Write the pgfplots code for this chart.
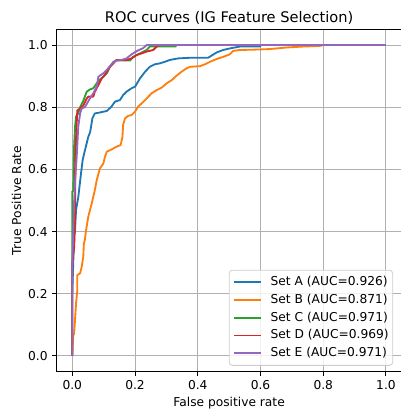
\documentclass[border=0pt]{standalone}
\usepackage{fontspec}
\setmainfont{DejaVu Sans}
\usepackage{pgfplots}
\pgfplotsset{compat=1.18}
\definecolor{tabblue}{HTML}{1F77B4}
\definecolor{taborange}{HTML}{FF7F0E}
\definecolor{tabgreen}{HTML}{2CA02C}
\definecolor{tabred}{HTML}{D62728}
\definecolor{tabpurple}{HTML}{9467BD}
\newcommand{\lblfont}{\fontsize{9.18}{11}\selectfont}
\begin{document}
\begin{tikzpicture}
\begin{axis}[
  scale only axis, width=258.75pt, height=256.5pt,
  xmin=-0.05, xmax=1.05, ymin=-0.05, ymax=1.05,
  xtick={0,0.2,0.4,0.6,0.8,1}, ytick={0,0.2,0.4,0.6,0.8,1},
  xticklabels={0.0,0.2,0.4,0.6,0.8,1.0}, yticklabels={0.0,0.2,0.4,0.6,0.8,1.0},
  grid=major, major grid style={color=black!31, line width=0.73pt},
  axis line style={line width=0.73pt},
  tick align=outside, tick pos=left, major tick length=3.2pt,
  every tick/.style={black, line width=0.73pt},
  ticklabel style={font=\lblfont},
  /pgf/number format/assume math mode=true,
  xlabel={False positive rate}, ylabel={True Positive Rate},
  title={ROC curves (IG Feature Selection)},
  label style={font=\lblfont},
  x label style={at={(axis description cs:0.5,0)}, anchor=base, yshift=-26.5pt},
  y label style={at={(axis description cs:0,0.5)}, anchor=base, yshift=26.7pt},
  title style={font=\fontsize{10.95}{13}\selectfont, at={(axis description cs:0.5,1)}, anchor=base, yshift=-0.6pt},
  every axis plot/.append style={line width=1.38pt, line join=round},
  legend cell align=left,
  legend image code/.code={\draw[#1] (0pt,0pt) -- (20pt,0pt);},
  legend style={at={(rel axis cs:1,0)}, anchor=south east, xshift=-6.4pt, yshift=4.3pt,
    draw=black!20, line width=0.6pt, rounded corners=2.5pt, fill=white, fill opacity=0.8, text opacity=1,
    font=\lblfont, inner xsep=3pt, inner ysep=4.6pt, row sep=4.3pt, column sep=6.75pt,
    nodes={inner sep=0pt, text height=7pt, text depth=2pt}},
]
\addplot[color=tabblue] coordinates {
(0,0) (0,0.20) (0.003,0.30) (0.006,0.38) (0.009,0.41) (0.012,0.47) (0.019,0.51)
(0.027,0.58) (0.033,0.63) (0.040,0.66) (0.051,0.705) (0.057,0.72) (0.064,0.764)
(0.072,0.78) (0.088,0.783) (0.110,0.788) (0.125,0.802) (0.136,0.818) (0.152,0.823)
(0.162,0.839) (0.173,0.850) (0.189,0.861) (0.200,0.866) (0.216,0.893) (0.232,0.914)
(0.247,0.930) (0.263,0.938) (0.279,0.941) (0.295,0.946) (0.311,0.952) (0.338,0.957)
(0.375,0.959) (0.433,0.959) (0.444,0.966) (0.460,0.976) (0.481,0.984) (0.502,0.989)
(0.534,0.995) (0.60,0.995) (0.60,1.0) (1,1)};
\addlegendentry{Set A (AUC=0.926)}
\addplot[color=taborange] coordinates {
(0,0) (0.003,0.065) (0.006,0.073) (0.009,0.121) (0.012,0.169) (0.016,0.212) (0.016,0.260)
(0.025,0.266) (0.030,0.287) (0.035,0.319) (0.037,0.362) (0.040,0.373) (0.044,0.405)
(0.051,0.448) (0.062,0.491) (0.072,0.534) (0.078,0.566) (0.088,0.603) (0.099,0.619)
(0.104,0.640) (0.110,0.657) (0.125,0.664) (0.141,0.673) (0.154,0.678) (0.160,0.705)
(0.162,0.743) (0.168,0.764) (0.178,0.772) (0.189,0.775) (0.200,0.786) (0.210,0.802)
(0.221,0.812) (0.237,0.828) (0.253,0.845) (0.269,0.855) (0.285,0.863) (0.301,0.877)
(0.317,0.887) (0.332,0.901) (0.348,0.914) (0.364,0.925) (0.375,0.930) (0.407,0.932)
(0.423,0.938) (0.439,0.946) (0.460,0.955) (0.481,0.962) (0.502,0.970) (0.513,0.981)
(0.534,0.984) (0.576,0.985) (0.630,0.987) (0.683,0.992) (0.735,0.995) (0.789,0.997)
(0.80,1.0) (1,1)};
\addlegendentry{Set B (AUC=0.871)}
\addplot[color=tabgreen] coordinates {
(0,0) (0,0.53) (0.003,0.53) (0.006,0.68) (0.009,0.74) (0.012,0.77) (0.019,0.78)
(0.025,0.80) (0.030,0.81) (0.035,0.82) (0.046,0.850) (0.056,0.857) (0.067,0.861) (0.078,0.877)
(0.088,0.889) (0.099,0.898) (0.110,0.909) (0.120,0.930) (0.131,0.946) (0.141,0.950)
(0.184,0.950) (0.194,0.962) (0.216,0.973) (0.237,0.984) (0.247,0.995) (0.33,0.995)
(0.33,1) (1,1)};
\addlegendentry{Set C (AUC=0.971)}
\addplot[color=tabred] coordinates {
(0,0) (0,0.30) (0.006,0.35) (0.009,0.45) (0.009,0.60) (0.012,0.70) (0.016,0.79)
(0.025,0.796) (0.035,0.805) (0.046,0.828) (0.051,0.834) (0.067,0.834) (0.072,0.850)
(0.083,0.871) (0.094,0.893) (0.099,0.898) (0.110,0.914) (0.120,0.930) (0.131,0.941)
(0.141,0.952) (0.173,0.952) (0.189,0.957) (0.205,0.968) (0.221,0.973) (0.237,0.979)
(0.258,0.984) (0.269,0.995) (0.279,1.0) (1,1)};
\addlegendentry{Set D (AUC=0.969)}
\addplot[color=tabpurple] coordinates {
(0,0) (0,0.29) (0.003,0.40) (0.006,0.50) (0.009,0.56) (0.014,0.64) (0.019,0.737)
(0.025,0.78) (0.030,0.796) (0.040,0.80) (0.056,0.828) (0.067,0.845) (0.078,0.866)
(0.083,0.898) (0.099,0.909) (0.110,0.920) (0.125,0.938) (0.136,0.949) (0.157,0.952)
(0.173,0.957) (0.189,0.970) (0.210,0.983) (0.226,0.990) (0.237,1.0) (1,1)};
\addlegendentry{Set E (AUC=0.971)}
\end{axis}
\pgfresetboundingbox
\useasboundingbox (-42.45pt,-29.6pt) rectangle (257.55pt,278.6pt);
\end{tikzpicture}
\end{document}
